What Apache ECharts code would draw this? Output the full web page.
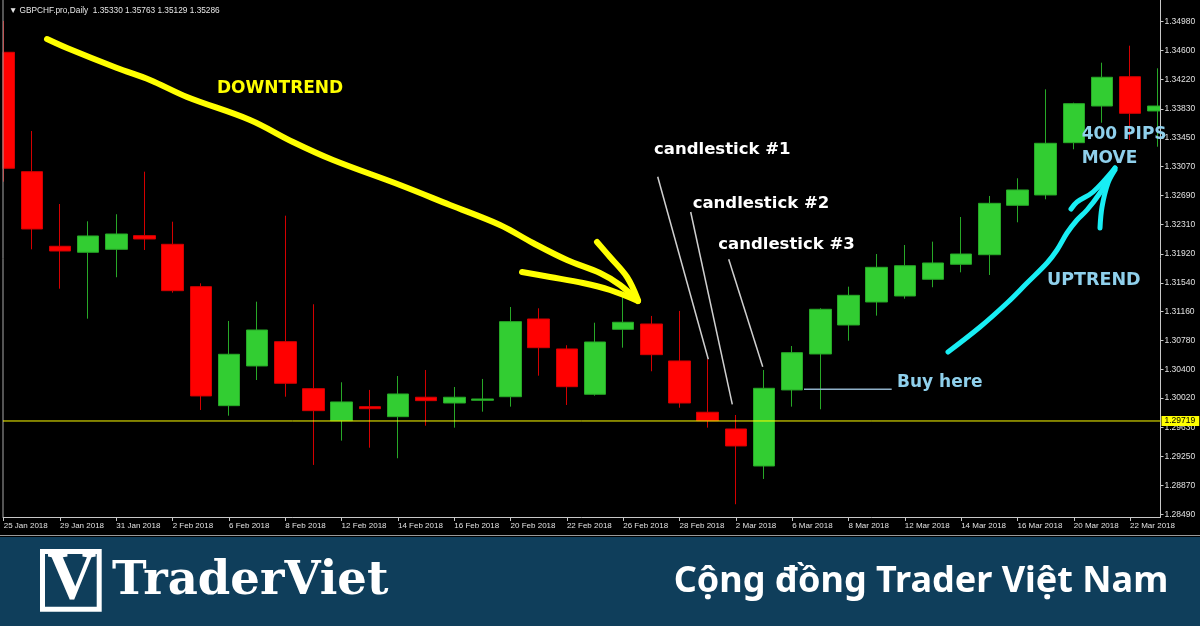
<!DOCTYPE html>
<html><head><meta charset="utf-8">
<script src="https://cdn.jsdelivr.net/npm/echarts@6/dist/echarts.min.js"></script>
<style>html,body{margin:0;padding:0;background:#000;}#c{width:1200px;height:626px;}</style>
</head><body><div id="c"></div>
<script>
const dates = ['25 Jan 2018','26 Jan 2018','29 Jan 2018','30 Jan 2018','31 Jan 2018','1 Feb 2018','2 Feb 2018','5 Feb 2018','6 Feb 2018','7 Feb 2018','8 Feb 2018','9 Feb 2018','12 Feb 2018','13 Feb 2018','14 Feb 2018','15 Feb 2018','16 Feb 2018','19 Feb 2018','20 Feb 2018','21 Feb 2018','22 Feb 2018','23 Feb 2018','26 Feb 2018','27 Feb 2018','28 Feb 2018','1 Mar 2018','2 Mar 2018','5 Mar 2018','6 Mar 2018','7 Mar 2018','8 Mar 2018','9 Mar 2018','12 Mar 2018','13 Mar 2018','14 Mar 2018','15 Mar 2018','16 Mar 2018','19 Mar 2018','20 Mar 2018','21 Mar 2018','22 Mar 2018','23 Mar 2018'];
const opens  = [1.34577,1.33004,1.32021,1.31942,1.31981,1.32161,1.32047,1.31489,1.29921,1.30444,1.30764,1.30145,1.29723,1.29908,1.29776,1.30032,1.29956,1.29992,1.30039,1.31063,1.30668,1.30071,1.30927,1.30997,1.30510,1.29834,1.29614,1.29126,1.30128,1.30602,1.30984,1.31287,1.31366,1.31586,1.31784,1.31910,1.32561,1.32697,1.33386,1.33869,1.34255,1.33804];
const closes = [1.33049,1.32249,1.31959,1.32157,1.32183,1.32117,1.31436,1.30049,1.30598,1.30918,1.30216,1.29855,1.29970,1.29881,1.30075,1.29987,1.30032,1.30009,1.31028,1.30685,1.30171,1.30760,1.31020,1.30593,1.29956,1.29723,1.29390,1.30150,1.30619,1.31191,1.31375,1.31744,1.31765,1.31801,1.31919,1.32587,1.32763,1.33378,1.33900,1.34248,1.33773,1.33869];
const lows   = [1.32872,1.31981,1.31462,1.31067,1.31613,1.31972,1.31410,1.29864,1.29789,1.30259,1.30039,1.29140,1.29460,1.29367,1.29228,1.29657,1.29631,1.29842,1.29908,1.30316,1.29930,1.30053,1.30685,1.30374,1.29894,1.29631,1.28622,1.28955,1.29908,1.29873,1.30777,1.31107,1.31331,1.31481,1.31678,1.31643,1.32337,1.32640,1.33299,1.33649,1.33421,1.33333];
const highs  = [1.34990,1.33540,1.32578,1.32350,1.32443,1.33004,1.32345,1.31533,1.31037,1.31291,1.32424,1.31257,1.30229,1.30128,1.30312,1.30391,1.30167,1.30273,1.31221,1.31204,1.30717,1.31014,1.31353,1.31103,1.31169,1.30532,1.29798,1.30391,1.30707,1.31204,1.31489,1.31919,1.32038,1.32082,1.32407,1.32684,1.32917,1.34089,1.33913,1.34440,1.34664,1.34366];
const priceTicks = [1.34980,1.34600,1.34220,1.33830,1.33450,1.33070,1.32690,1.32310,1.31920,1.31540,1.31160,1.30780,1.30400,1.30020,1.29630,1.29250,1.28870,1.28490];
const dateTickIdx = [0,2,4,6,8,10,12,14,16,18,20,22,24,26,28,30,32,34,36,38,40];
const levelPrice = 1.29719;
const headerText = '\u25BC GBPCHF.pro,Daily  1.35330 1.35763 1.35129 1.35286';

const X_MIN = -0.025, X_MAX = 41.08, Y_MIN = 1.28454, Y_MAX = 1.35266;

const chart = echarts.init(document.getElementById('c'), null, {renderer: 'canvas'});
const candles = dates.map((d, i) => [i, opens[i], closes[i], lows[i], highs[i]]);

const bold = (s, fam) => 'bold ' + s + 'px ' + (fam || '"DejaVu Sans"');
function txt(text, x, y, size, color, fam, align) {
  return {type: 'text', z: 100, style: {text: text, x: x, y: y, font: bold(size, fam), fill: color, align: align || 'left', verticalAlign: 'middle'}};
}
function pl(points, color, w, smooth) {
  return {type: 'polyline', z: 90, shape: {points: points, smooth: smooth == null ? 0.35 : smooth}, style: {stroke: color, lineWidth: w, lineCap: 'round', lineJoin: 'round', fill: null}};
}
const Y = '#ffff00', CY = '#18eef4', LB = '#8fd0ec';

const option = {
  backgroundColor: '#000000',
  animation: false,
  title: {text: headerText, left: 4, top: 2, textStyle: {color: '#e6e6e6', fontSize: 8.3, fontWeight: 'normal', fontFamily: '"Liberation Sans"'}},
  grid: {left: 3, right: 39.5, top: 0, bottom: 109},
  xAxis: {
    type: 'value', min: X_MIN, max: X_MAX, z: 10,
    splitLine: {show: false},
    axisLine: {show: true, onZero: false, lineStyle: {color: '#c8c8c8', width: 1}},
    axisTick: {show: true, customValues: dateTickIdx, length: 4, lineStyle: {color: '#c8c8c8'}},
    axisLabel: {customValues: dateTickIdx, formatter: v => dates[Math.round(v)], align: 'left', margin: 5,
      color: '#e0e0e0', fontSize: 8, fontFamily: '"Liberation Sans"', hideOverlap: false}
  },
  yAxis: {
    type: 'value', position: 'right', min: Y_MIN, max: Y_MAX, scale: true, z: 10,
    splitLine: {show: false},
    axisLine: {show: true, onZero: false, lineStyle: {color: '#c8c8c8', width: 1}},
    axisTick: {show: true, customValues: priceTicks, length: 3, lineStyle: {color: '#c8c8c8'}},
    axisLabel: {customValues: priceTicks, formatter: v => v.toFixed(5), margin: 4, color: '#e0e0e0', fontSize: 8.5, fontFamily: '"Liberation Sans"'}
  },
  series: [{
    type: 'candlestick',
    z: 2,
    data: candles,
    dimensions: ['idx', 'open', 'close', 'low', 'high'],
    encode: {x: 'idx', y: ['open', 'close', 'low', 'high']},
    barWidth: 22,
    clip: true,
    itemStyle: {color: '#32cd32', color0: '#ff0000', borderColor: '#27a827', borderColor0: '#d40000', borderWidth: 1}
  }, {
    type: 'line',
    z: 12,
    silent: true,
    symbol: 'none',
    clip: false,
    data: [[X_MIN, levelPrice], [X_MAX, levelPrice]],
    lineStyle: {color: '#ffff00', width: 1, type: 'solid'},
    itemStyle: {color: '#ffff00'},
    endLabel: {show: true, formatter: levelPrice.toFixed(5), backgroundColor: '#ffff00', color: '#000000', fontSize: 8.5, fontFamily: '"Liberation Sans"', padding: [1, 4, 0, 3], distance: 1}
  }],
  graphic: [
    // mask candle overflow outside plot
    {type: 'rect', z: 5, shape: {x: 0, y: 0, width: 2.5, height: 518}, style: {fill: '#000000'}},
    {type: 'rect', z: 5, shape: {x: 1161, y: 0, width: 39, height: 518}, style: {fill: '#000000'}},
    {type: 'line', z: 11, shape: {x1: 3, y1: 0, x2: 3, y2: 517}, style: {stroke: '#a8a8a8', lineWidth: 1}},
    // footer
    {type: 'line', z: 80, shape: {x1: 0, y1: 535.5, x2: 1200, y2: 535.5}, style: {stroke: '#9a9a9a', lineWidth: 1}},
    {type: 'rect', z: 80, shape: {x: 0, y: 537, width: 1200, height: 89}, style: {fill: '#0f3e5b'}},
    {type: 'rect', z: 85, shape: {x: 42.5, y: 551.5, width: 56.7, height: 57.7}, style: {stroke: '#ffffff', lineWidth: 5, fill: null}},
    txt('V', 71.7, 580.5, 68, '#ffffff', '"Liberation Serif"', 'center'),
    txt('TraderViet', 112, 582, 46.5, '#ffffff', '"DejaVu Serif"'),
    txt('C\u1ED9ng \u0111\u1ED3ng Trader Vi\u1EC7t Nam', 921, 582, 36, '#ffffff', '"Noto Sans"', 'center'),
    // yellow downtrend arrow
    pl([[47,39],[67,48],[117,68],[150,80],[187,97],[250,120],[293,142],[333,160],[400,185],[450,205],[500,225],[533,243],[567,260],[600,273],[620,285],[638,301]], Y, 6),
    pl([[522,272],[550,277],[583,283],[610,290],[638,301]], Y, 6),
    pl([[597,242],[610,257],[627,277],[638,300]], Y, 6),
    txt('DOWNTREND', 217, 88.4, 17, Y),
    // pointer lines
    {type: 'line', z: 90, shape: {x1: 657.7, y1: 176.7, x2: 708.3, y2: 359.3}, style: {stroke: '#d0d0d0', lineWidth: 1.5}},
    {type: 'line', z: 90, shape: {x1: 690.7, y1: 212, x2: 732.3, y2: 404.3}, style: {stroke: '#d0d0d0', lineWidth: 1.5}},
    {type: 'line', z: 90, shape: {x1: 728.7, y1: 259.3, x2: 762.7, y2: 366.7}, style: {stroke: '#d0d0d0', lineWidth: 1.5}},
    txt('candlestick #1', 654, 149.5, 16.5, '#ffffff'),
    txt('candlestick #2', 692.7, 203.5, 16.5, '#ffffff'),
    txt('candlestick #3', 718.3, 245.2, 16.5, '#ffffff'),
    // buy here
    {type: 'line', z: 90, shape: {x1: 804, y1: 389.3, x2: 891.7, y2: 389.3}, style: {stroke: '#8fb0c8', lineWidth: 1.5}},
    txt('Buy here', 897, 382.7, 17, LB),
    // cyan uptrend arrow
    pl([[948,352],[980,327],[1007,303],[1027,283],[1047,263],[1057,250],[1067,233],[1077,220],[1087,210],[1100,193],[1115,168]], CY, 5),
    pl([[1071,209],[1077,202],[1093,192],[1115,168]], CY, 5),
    pl([[1100,228],[1102,207],[1108,183],[1115,170]], CY, 5),
    txt('UPTREND', 1047, 280.9, 17.5, LB),
    txt('400 PIPS', 1081.7, 134.4, 17, LB),
    txt('MOVE', 1081.7, 158.7, 17, LB)
  ]
};
chart.setOption(option);
</script>
</body></html>
